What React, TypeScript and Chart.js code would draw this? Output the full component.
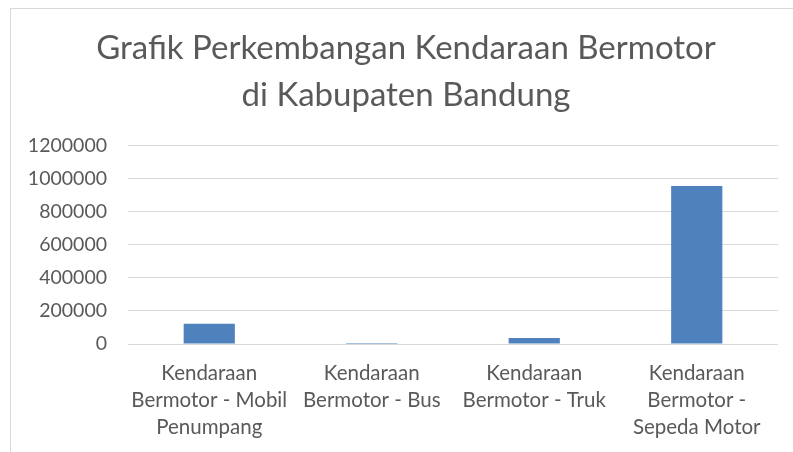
import React, { useEffect, useRef } from "react";
import { Chart, registerables } from "chart.js";

Chart.register(...registerables);

const titleLines = ["Grafik Perkembangan Kendaraan Bermotor", "di Kabupaten Bandung"];
const categories: string[][] = [
  ["Kendaraan", "Bermotor - Mobil", "Penumpang"],
  ["Kendaraan", "Bermotor - Bus"],
  ["Kendaraan", "Bermotor - Truk"],
  ["Kendaraan", "Bermotor -", "Sepeda Motor"],
];
const values = [122000, 300, 36000, 956000];
const yMin = 0;
const yMax = 1200000;
const yStep = 200000;

const FONT = "Lato, 'Open Sans', sans-serif";
const TEXT = "#595959";

// Excel centres the title on the whole chart frame, which starts further left-inset
const titleShift = {
  id: "titleShift",
  afterLayout(chart: any) {
    const t = chart.titleBlock;
    if (t) {
      t.left += 34;
    }
  },
};

export default function App() {
  const ref = useRef<HTMLCanvasElement | null>(null);
  useEffect(() => {
    document.body.style.margin = "0";
    const canvas = ref.current;
    if (!canvas) return;
    const chart = new Chart(canvas, {
      type: "bar",
      data: {
        labels: categories,
        datasets: [
          {
            data: values,
            backgroundColor: "#4f81bd",
            borderWidth: 0,
            barPercentage: 0.315,
            categoryPercentage: 1,
          },
        ],
      },
      plugins: [titleShift],
      options: {
        animation: false,
        responsive: false,
        maintainAspectRatio: false,
        layout: { padding: { left: 0, right: 15, top: 0, bottom: 11 } },
        plugins: {
          legend: { display: false },
          tooltip: { enabled: false },
          title: {
            display: true,
            text: titleLines,
            color: TEXT,
            font: { family: FONT, size: 33, weight: "normal", lineHeight: 1.45 },
            padding: { top: 24, bottom: 26 },
          },
        },
        scales: {
          x: {
            grid: { display: false, drawTicks: false },
            border: { display: false },
            ticks: {
              color: TEXT,
              font: { family: FONT, size: 20.5, lineHeight: 27 / 20.5 },
              padding: 16,
              maxRotation: 0,
              minRotation: 0,
              autoSkip: false,
            },
            afterFit: (scale: any) => {
              scale.height = 97;
            },
          },
          y: {
            min: yMin,
            max: yMax,
            grid: { color: "#d9d9d9", lineWidth: 1, drawTicks: false },
            border: { display: false },
            ticks: {
              stepSize: yStep,
              color: TEXT,
              font: { family: FONT, size: 19.5 },
              padding: 21,
              callback: (v: any) => String(v),
            },
            afterFit: (scale: any) => {
              scale.width = 128;
            },
          },
        },
      },
    });
    return () => chart.destroy();
  }, []);

  return (
    <div style={{ position: "relative", width: 793, height: 452, overflow: "hidden", background: "#fff" }}>
      <div
        style={{
          position: "absolute",
          left: 10,
          top: 8,
          width: 900,
          height: 600,
          border: "1px solid #d9d9d9",
          boxSizing: "border-box",
        }}
      />
      <canvas ref={ref} width={793} height={452} style={{ position: "absolute", left: 0, top: 0 }} />
    </div>
  );
}
